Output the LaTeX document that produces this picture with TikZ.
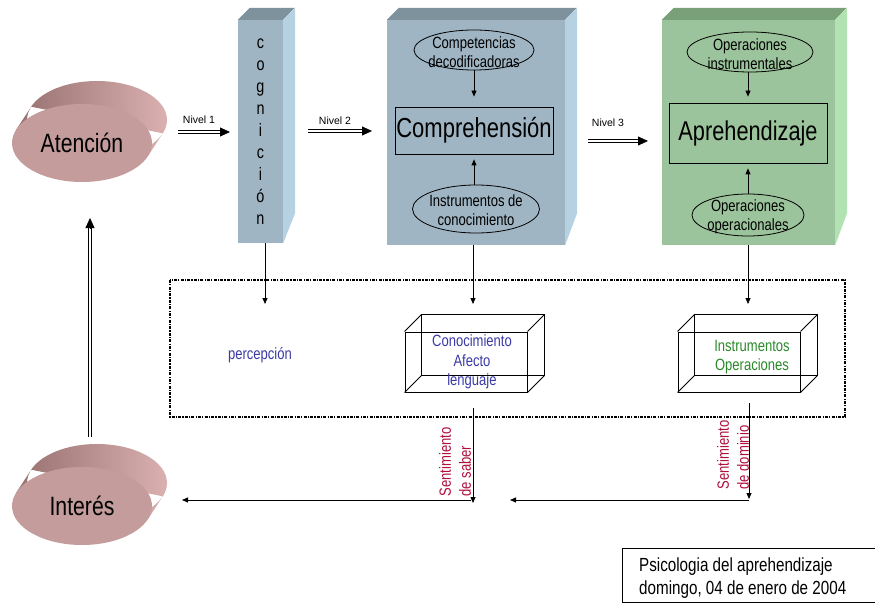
\documentclass[tikz,border=0pt]{standalone}
\usepackage{fontspec}
\setmainfont[FakeStretch=0.8]{Liberation Sans}
\newfontfamily\plainfont{Liberation Sans}
\usetikzlibrary{arrows.meta,shapes.geometric}
\definecolor{atFront}{HTML}{C49C9C}
\definecolor{atDark}{HTML}{977070}
\definecolor{atLight}{HTML}{DAB0B0}
\definecolor{blueFront}{HTML}{9FB5C3}
\definecolor{blueTop}{HTML}{7E929E}
\definecolor{blueSide}{HTML}{B6D2E2}
\definecolor{greenFront}{HTML}{9CC49C}
\definecolor{greenTop}{HTML}{79A079}
\definecolor{greenSide}{HTML}{B2E2B2}
\definecolor{txtBlue}{HTML}{3B3BA8}
\definecolor{txtGreen}{HTML}{2A8A2A}
\definecolor{txtRed}{HTML}{B0103F}
\begin{document}
\begin{tikzpicture}[x=1pt,y=-1pt,
  arr/.style={-{Triangle[length=6pt,width=5pt]}, line width=0.8pt},
  dblline/.style={double, double distance=2.4pt, line width=0.8pt},
  bigtip/.style={-{Triangle[length=10pt,width=9pt]}, line width=0.8pt},
  disk/.style={ellipse, fill=atFront, minimum width=140pt, minimum height=78pt, inner sep=0pt, font=\fontsize{26.5}{30}\selectfont},
  frontface/.style={rectangle, inner sep=0pt},
  ovl/.style={ellipse, draw, line width=0.8pt, inner sep=0pt},
  ovltext/.style={align=center, font=\fontsize{16.3}{18.5}\selectfont},
  mainbox/.style={rectangle, draw, line width=0.8pt, inner sep=0pt},
  small/.style={font=\plainfont\fontsize{10.5}{12}\selectfont},
  med/.style={font=\fontsize{16.3}{19.5}\selectfont, align=center},
  senti/.style={font=\fontsize{16.3}{20}\selectfont, align=left, rotate=90, text=txtRed, inner sep=0pt}
]
\useasboundingbox (0,0) rectangle (875,604);
\clip (0,0) rectangle (875,604);
\fill[white] (0,0) rectangle (875,604);

% Atencion disk
\shade[left color=atDark, right color=atLight]
  (82,143) ++(65.8,13.3) -- ++(15,-23) -- (31.2,106.7) -- (16.2,129.7) -- cycle
  (97,120) ellipse [x radius=70, y radius=39];
\node[disk] (atencion) at (82,143) {Atención};

% Interes disk
\shade[left color=atDark, right color=atLight]
  (82,506) ++(65.8,13.3) -- ++(15,-23) -- (31.2,469.7) -- (16.2,492.7) -- cycle
  (97,483) ellipse [x radius=70, y radius=39];
\node[disk] (interes) at (82,506) {Interés};

\coordinate (tv) at (90,218);
\draw[dblline, shorten <=30pt] ([xshift=8pt]interes.north) -- ([yshift=-9pt]tv);
\draw[bigtip] ([yshift=-10pt]tv) -- (tv);

% cognicion column
\node[frontface, fill=blueFront, minimum width=45pt, minimum height=223pt, align=center,
      font=\fontsize{18}{22}\selectfont] (cog) at (260.5,131.5)
      {c\\o\\g\\n\\i\\c\\i\\ó\\n};
\fill[blueTop] (cog.north west) -- ++(12,-12) -- ++(45,0) -- (cog.north east) -- cycle;
\fill[blueSide] (cog.north east) -- ++(12,-12) -- ++(0,205) -- (cog.south east) -- cycle;

% Comprehension block
\node[frontface, fill=blueFront, minimum width=178pt, minimum height=225pt] (comp3d) at (476,132.5) {};
\fill[blueTop] (comp3d.north west) -- ++(12,-12) -- ++(178,0) -- (comp3d.north east) -- cycle;
\fill[blueSide] (comp3d.north east) -- ++(12,-12) -- ++(0,205) -- (comp3d.south east) -- cycle;
\node[ovl, minimum width=120pt, minimum height=40pt] (compet) at (474,50) {};
\node[ovltext] (competT) at (474,52) {Competencias\\decodificadoras};
\node[mainbox, minimum width=158pt, minimum height=47pt, font=\fontsize{27.5}{30}\selectfont] (comp) at (474,130.5) {Comprehensión};
\node[ovl, minimum width=127pt, minimum height=48pt] (inst) at (476,209) {};
\node[ovltext] (instT) at (476,210) {Instrumentos de\\conocimiento};
\draw[arr, shorten >=10pt] (compet.south) -- (comp.north);
\draw[arr, shorten >=5pt] (inst.north -| comp.south) -- (comp.south);

% Aprehendizaje block
\node[frontface, fill=greenFront, minimum width=173pt, minimum height=225pt] (apr3d) at (748.5,132.5) {};
\fill[greenTop] (apr3d.north west) -- ++(12,-12) -- ++(173,0) -- (apr3d.north east) -- cycle;
\fill[greenSide] (apr3d.north east) -- ++(12,-12) -- ++(0,205) -- (apr3d.south east) -- cycle;
\node[ovl, minimum width=126pt, minimum height=40pt] (opinst) at (750,52) {};
\node[ovltext] (opinstT) at (750,54) {Operaciones\\instrumentales};
\node[mainbox, minimum width=158pt, minimum height=60pt, font=\fontsize{27.2}{30}\selectfont] (aprend) at (748,133) {Aprehendizaje};
\node[ovl, minimum width=112pt, minimum height=42pt] (opop) at (748,215) {};
\node[ovltext] (opopT) at (748,217) {Operaciones\\operacionales};
\draw[arr, shorten >=6pt] (opinst.south -| aprend.north) -- (aprend.north);
\draw[arr, shorten >=5pt] (opop.north) -- (aprend.south);

% Nivel arrows
\coordinate (t1) at (230,132);
\draw[dblline, shorten <=26pt] (atencion.east |- t1) -- ([xshift=-9pt]t1);
\draw[bigtip] ([xshift=-10pt]t1) -- (t1);
\node[small] (n1) at (199,120) {Nivel 1};
\coordinate (t2) at (372,131);
\draw[dblline, shorten <=25pt] (cog.east |- t2) -- ([xshift=-9pt]t2);
\draw[bigtip] ([xshift=-10pt]t2) -- (t2);
\node[small] (n2) at (335,121) {Nivel 2};
\coordinate (t3) at (648,141);
\draw[dblline, shorten <=23pt] (comp3d.east |- t3) -- ([xshift=-9pt]t3);
\draw[bigtip] ([xshift=-10pt]t3) -- (t3);
\node[small] (n3) at (608,123) {Nivel 3};

% dotted frame
\draw[line width=1.4pt, dash pattern=on 3pt off 1.2pt on 1.2pt off 1.2pt] (170,280) rectangle (845,417);

% down arrows
\coordinate (pc) at (265,304);
\coordinate (kc) at (473,304);
\coordinate (ic) at (748,304);
\draw[arr] (cog.south -| pc) -- (pc);
\draw[arr] (comp3d.south -| kc) -- (kc);
\draw[arr] (apr3d.south -| ic) -- (ic);

\node[med, text=txtBlue] (perc) at (260,355) {percepción};

% wire box Conocimiento
\node[rectangle, draw, line width=1pt, minimum width=122pt, minimum height=60pt, inner sep=0pt] (conoc) at (466,362) {};
\draw[line width=0.8pt] ([xshift=17pt,yshift=17pt]conoc.south west) rectangle ([xshift=17pt,yshift=17pt]conoc.north east);
\foreach \c in {north west, north east, south west, south east}
  \draw[line width=0.8pt] (conoc.\c) -- ([xshift=17pt,yshift=17pt]conoc.\c);
\node[med, text=txtBlue] (conocT) at (472,362) {Conocimiento\\Afecto\\lenguaje};

% wire box Instrumentos
\node[rectangle, draw, line width=1pt, minimum width=122pt, minimum height=60pt, inner sep=0pt] (instr) at (739,362) {};
\draw[line width=0.8pt] ([xshift=17pt,yshift=17pt]instr.south west) rectangle ([xshift=17pt,yshift=17pt]instr.north east);
\foreach \c in {north west, north east, south west, south east}
  \draw[line width=0.8pt] (instr.\c) -- ([xshift=17pt,yshift=17pt]instr.\c);
\node[med, text=txtGreen] (instrT) at (752,357) {Instrumentos\\Operaciones};

% Sentimiento arrows
\coordinate (s1a) at (473,408);
\coordinate (s1b) at (473,503);
\coordinate (s1c) at (471,500);
\coordinate (s1d) at (182,500);
\draw[arr] (s1a) -- (s1b);
\draw[arr] (s1c) -- (s1d);
\node[senti] (sab) at (455,462) {Sentimiento\\de saber};

\coordinate (s2a) at (749,403);
\coordinate (s2b) at (749,499);
\coordinate (s2c) at (749,500);
\coordinate (s2d) at (510,500);
\draw[arr] (s2a) -- (s2b);
\draw[arr] (s2c) -- (s2d);
\node[senti] (dom) at (733,455) {Sentimiento\\de dominio};

% caption box
\draw[line width=0.9pt] (622,548) rectangle (890,602.5);
\node[anchor=west, align=left, font=\fontsize{19}{23}\selectfont, inner sep=0pt] (cap) at (639,578.5)
  {Psicologia del aprehendizaje\\domingo, 04 de enero de 2004};
\end{tikzpicture}
\end{document}
